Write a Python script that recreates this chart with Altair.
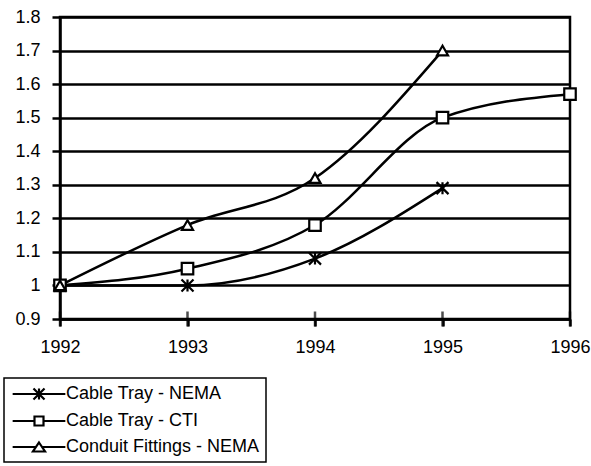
import altair as alt
import pandas as pd

# Price index series (1992 = 1.0)
years = [1992, 1993, 1994, 1995, 1996]
series_names = ["Cable Tray - NEMA", "Cable Tray - CTI", "Conduit Fittings - NEMA"]
tray_nema = [1.00, 1.00, 1.08, 1.29, None]
tray_cti = [1.00, 1.05, 1.18, 1.50, 1.57]
conduit_nema = [1.00, 1.18, 1.32, 1.70, None]
y_ticks = [0.9, 1.0, 1.1, 1.2, 1.3, 1.4, 1.5, 1.6, 1.7, 1.8]

rows = []
for name, vals in zip(series_names, [tray_nema, tray_cti, conduit_nema]):
    for yr, v in zip(years, vals):
        if v is not None:
            rows.append({"year": yr, "index": v, "series": name})
df = pd.DataFrame(rows)
years_df = pd.DataFrame({"year": years})

FONT = "Liberation Sans"
FONT_SIZE = 18
RULE_W = 2.5

# marker shapes: asterisk, open square, open triangle
STAR = "M-1,-1L1,1M-1,1L1,-1M0,-1L0,1"
marker_shapes = [STAR, "square", "triangle-up"]
marker_sizes = [144, 121, 180]

# legend glyphs: a line segment with the marker in the middle
# (path unit = sqrt(LEGEND_SIZE) / 2 px)
LEGEND_SIZE = 289
legend_shapes = [
    "M-3.1,0H3.1M-0.65,-0.65L0.65,0.65M-0.65,0.65L0.65,-0.65M0,-0.65V0.65",
    "M-3.1,0H-0.53M0.53,0H3.1M-0.53,-0.53H0.53V0.53H-0.53Z",
    "M-3.1,0H-0.35M0.35,0H3.1M0,-0.53L0.71,0.53H-0.71Z",
]

y_scale = alt.Scale(domain=[0.9, 1.8], nice=False, zero=False)
y_axis = alt.Axis(
    values=y_ticks, format=".1~f", title=None,
    grid=True, gridColor="black", gridWidth=RULE_W, gridOpacity=1,
    domainColor="black", domainWidth=RULE_W,
    tickColor="black", tickWidth=RULE_W, tickSize=8,
    labelFont=FONT, labelFontSize=FONT_SIZE, labelColor="black",
    labelPadding=12, labelFlush=False, labelOverlap=False,
)
x_enc = alt.X(
    "year:Q",
    scale=alt.Scale(domain=[1992, 1996], nice=False, zero=False),
    axis=alt.Axis(
        values=years, format="d", title=None, grid=False,
        domainColor="black", domainWidth=RULE_W,
        tickColor="black", tickWidth=RULE_W, tickSize=7,
        labelFont=FONT, labelFontSize=FONT_SIZE, labelColor="black",
        labelPadding=12, labelFlush=False, labelOverlap=False,
    ),
)
y_enc = alt.Y("index:Q", scale=y_scale, axis=y_axis)

base = alt.Chart(df)

lines = base.mark_line(
    color="black", strokeWidth=2.5, interpolate="monotone"
).encode(
    x=x_enc, y=y_enc,
    detail="series:N",
    order="year:Q",
)

points = base.mark_point(
    filled=True, fill="white", stroke="black", strokeWidth=2.2, opacity=1
).encode(
    x=x_enc, y=y_enc,
    shape=alt.Shape("series:N",
                    scale=alt.Scale(domain=series_names, range=marker_shapes),
                    legend=None),
    size=alt.Size("series:N",
                  scale=alt.Scale(domain=series_names, range=marker_sizes),
                  legend=None),
)

# year ticks crossing the bottom axis
ticks = alt.Chart(years_df).mark_tick(
    orient="vertical", size=15, thickness=RULE_W, color="black"
).encode(x=x_enc, y=alt.YDatum(0.9, scale=y_scale, axis=y_axis))

legend_layer = base.transform_filter("false").mark_point(
    filled=False, color="black", strokeWidth=2, size=LEGEND_SIZE, opacity=1
).encode(
    x=x_enc, y=y_enc,
    shape=alt.Shape(
        "series:N",
        scale=alt.Scale(domain=series_names, range=legend_shapes),
        legend=alt.Legend(
            title=None, orient="none", legendX=-56, legendY=361,
            padding=6, strokeColor="black",
            labelFont=FONT, labelFontSize=FONT_SIZE, labelColor="black",
            labelLimit=400,
            symbolOffset=19, labelOffset=17,
            symbolSize=LEGEND_SIZE, symbolStrokeWidth=2.2,
            symbolStrokeColor="black", symbolFillColor="white",
            rowPadding=7,
        ),
    ),
)

chart = alt.layer(lines, points, ticks, legend_layer).resolve_scale(
    shape="independent", size="independent"
).resolve_legend(shape="independent").properties(
    width=510, height=302,
    padding={"left": 60, "top": 17, "right": 21, "bottom": 147},
    autosize=alt.AutoSizeParams(type="none"),
    background="white",
).configure_view(
    stroke="black", strokeWidth=RULE_W
).configure_legend(strokeWidth=1.5)

chart.save("out.html", embed_options={"renderer": "svg", "actions": False})
